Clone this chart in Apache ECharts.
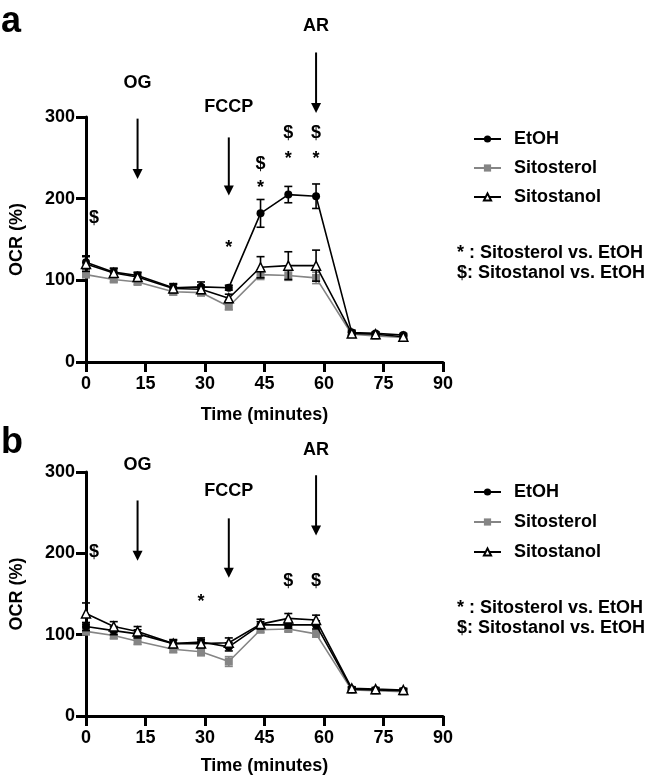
<!DOCTYPE html>
<html><head><meta charset="utf-8">
<script src="https://cdn.jsdelivr.net/npm/echarts@6/dist/echarts.min.js"></script>
<style>html,body{margin:0;padding:0;background:#fff}#c{width:646px;height:777px}</style>
</head><body><div id="c"></div><script>
// ---- data ----
const times = [0, 7, 13, 22, 29, 36, 44, 51, 58, 67, 73, 80];
const seriesNames = ['EtOH', 'Sitosterol', 'Sitostanol'];
const xTicks = [0, 15, 30, 45, 60, 75, 90];
const yTicks = [0, 100, 200, 300];

// panel a
const etohA = [122, 110, 106, 91, 92, 91, 182, 205, 203, 36, 35, 33];
const etohAErr = [8, 5, 4, 5, 6, 3, 17, 10, 15, 3, 2, 2];
const sterolA = [107, 101, 98, 86, 85, 68, 107, 106, 103, 34, 32, 30];
const sterolAErr = [3, 3, 3, 4, 4, 4, 6, 6, 7, 2, 2, 2];
const stanolA = [120, 109, 104, 90, 89, 78, 116, 118, 118, 35, 34, 31];
const stanolAErr = [9, 5, 5, 5, 5, 5, 13, 17, 19, 2, 2, 2];

// panel b
const etohB = [110, 105, 101, 89, 91, 85, 112, 112, 112, 33, 32, 31];
const etohBErr = [5, 5, 5, 4, 5, 5, 4, 4, 5, 2, 2, 2];
const sterolB = [104, 99, 92, 82, 79, 67, 106, 107, 101, 32, 31, 30];
const sterolBErr = [4, 4, 4, 4, 5, 6, 3, 3, 4, 2, 2, 2];
const stanolB = [126, 110, 104, 89, 89, 90, 113, 120, 118, 34, 33, 32];
const stanolBErr = [13, 6, 6, 5, 5, 6, 6, 6, 6, 2, 2, 2];

// significance marks [time, y]
const starA = [[36, 139], [44, 213], [51, 248], [58, 248]];
const dollarA = [[2, 176], [44, 243], [51, 280], [58, 280]];
const starB = [[29, 140]];
const dollarB = [[2, 201], [51, 166], [58, 166]];

// injections: label, time, arrow top y, arrow tip y, label y (data units)
const injectionsA = [
  ['OG', 13, 298, 224, 341],
  ['FCCP', 36, 275, 204, 312],
  ['AR', 58, 379, 305, 412]
];
const injectionsB = [
  ['OG', 13, 265, 191, 308],
  ['FCCP', 36, 243, 170, 277],
  ['AR', 58, 296, 222, 327]
];
const statNotes = ['* : Sitosterol vs. EtOH', '$: Sitostanol vs. EtOH'];

// ---- chart ----
const FONT = '"Liberation Sans", Arial, Helvetica, sans-serif';
const GREY = '#858585';
const chart = echarts.init(document.getElementById('c'), null, {renderer: 'canvas'});

function xAxis(gi, gap) {
  return {
    type: 'value', gridIndex: gi, min: 0, max: 90, interval: 15,
    name: 'Time (minutes)', nameLocation: 'middle', nameGap: gap,
    nameTextStyle: {color: '#000', fontSize: 18, fontWeight: 'bold', fontFamily: FONT},
    axisLine: {lineStyle: {color: '#000', width: 3}},
    axisTick: {length: 10, lineStyle: {color: '#000', width: 3}},
    axisLabel: {color: '#000', fontSize: 18, fontWeight: 'bold', fontFamily: FONT, margin: 13,
      formatter: v => xTicks.indexOf(v) >= 0 ? String(v) : ''},
    splitLine: {show: false}
  };
}
function yAxis(gi) {
  return {
    type: 'value', gridIndex: gi, min: 0, max: 300, interval: 100,
    name: 'OCR (%)', nameLocation: 'middle', nameGap: 60, nameRotate: 90,
    nameTextStyle: {color: '#000', fontSize: 18, fontWeight: 'bold', fontFamily: FONT},
    axisLine: {lineStyle: {color: '#000', width: 3}},
    axisTick: {length: 10, lineStyle: {color: '#000', width: 3}},
    axisLabel: {color: '#000', fontSize: 18, fontWeight: 'bold', fontFamily: FONT, margin: 11,
      formatter: v => yTicks.indexOf(v) >= 0 ? String(v) : ''},
    splitLine: {show: false}
  };
}
function pts(v) { return times.map((t, i) => [t, v[i]]); }
function errPts(v, e) { return times.map((t, i) => [t, v[i] - e[i], v[i] + e[i]]); }
function errRender(color) {
  return function (params, api) {
    const x = api.value(0), lo = api.value(1), hi = api.value(2);
    const a = api.coord([x, lo]), b = api.coord([x, hi]);
    const w = 4, st = {stroke: color, lineWidth: 1.6, fill: null};
    return {type: 'group', children: [
      {type: 'line', shape: {x1: a[0], y1: a[1], x2: b[0], y2: b[1]}, style: st},
      {type: 'line', shape: {x1: b[0] - w, y1: b[1], x2: b[0] + w, y2: b[1]}, style: st},
      {type: 'line', shape: {x1: a[0] - w, y1: a[1], x2: a[0] + w, y2: a[1]}, style: st}
    ]};
  };
}
function panelSeries(gi, etoh, etohE, sterol, sterolE, stanol, stanolE, stars, dollars) {
  const ax = {xAxisIndex: gi, yAxisIndex: gi};
  const markLabel = (txt) => ({show: true, position: 'inside', formatter: txt, color: '#000',
    opacity: 1, textBorderWidth: 0, textBorderColor: 'transparent',
    fontSize: 18, fontWeight: 'bold', fontFamily: FONT});
  return [
    Object.assign({type: 'custom', name: 'errSterol' + gi, renderItem: errRender(GREY), data: errPts(sterol, sterolE), encode: {x: 0, y: [1, 2]}, z: 1, silent: true}, ax),
    Object.assign({type: 'line', name: 'Sitosterol', data: pts(sterol), symbol: 'rect', symbolSize: 8,
      itemStyle: {color: GREY}, lineStyle: {color: GREY, width: 1.6}, z: 2}, ax),
    Object.assign({type: 'custom', name: 'errEtoh' + gi, renderItem: errRender('#000'), data: errPts(etoh, etohE), encode: {x: 0, y: [1, 2]}, z: 3, silent: true}, ax),
    Object.assign({type: 'line', name: 'EtOH', data: pts(etoh), symbol: 'circle', symbolSize: 8,
      itemStyle: {color: '#000'}, lineStyle: {color: '#000', width: 1.6}, z: 4}, ax),
    Object.assign({type: 'custom', name: 'errStanol' + gi, renderItem: errRender('#000'), data: errPts(stanol, stanolE), encode: {x: 0, y: [1, 2]}, z: 5, silent: true}, ax),
    Object.assign({type: 'line', name: 'Sitostanol', data: pts(stanol), symbol: 'triangle', symbolSize: 9,
      itemStyle: {color: '#fff', borderColor: '#000', borderWidth: 1.5}, lineStyle: {color: '#000', width: 1.6}, z: 6}, ax),
    Object.assign({type: 'scatter', name: 'starMarks' + gi, data: stars, symbolSize: 2, itemStyle: {color: 'rgba(255,255,255,0)'}, label: markLabel('*'), z: 7, silent: true}, ax),
    Object.assign({type: 'scatter', name: 'dollarMarks' + gi, data: dollars, symbolSize: 2, itemStyle: {color: 'rgba(255,255,255,0)'}, label: markLabel('$'), z: 7, silent: true}, ax)
  ];
}
function legend(top, gap) {
  return {
    data: seriesNames, orient: 'vertical', left: 468, top: top, itemGap: gap,
    itemWidth: 27, itemHeight: 9, selectedMode: false,
    textStyle: {color: '#000', fontSize: 18, fontWeight: 'bold', fontFamily: FONT, padding: [0, 0, 0, 8]}
  };
}

chart.setOption({
  animation: false,
  backgroundColor: '#fff',
  grid: [
    {left: 76, top: 117, width: 367, height: 245},
    {left: 76, top: 472, width: 367, height: 244}
  ],
  xAxis: [xAxis(0, 44), xAxis(1, 41)],
  yAxis: [yAxis(0), yAxis(1)],
  legend: [legend(125, 11), legend(478, 12)],
  series: panelSeries(0, etohA, etohAErr, sterolA, sterolAErr, stanolA, stanolAErr, starA, dollarA)
    .concat(panelSeries(1, etohB, etohBErr, sterolB, sterolBErr, stanolB, stanolBErr, starB, dollarB))
});

function arrows(gi, list) {
  const out = [];
  list.forEach(([label, t, yTop, yTip, yLab]) => {
    const p1 = chart.convertToPixel({gridIndex: gi}, [t, yTop]);
    const p2 = chart.convertToPixel({gridIndex: gi}, [t, yTip]);
    const pl = chart.convertToPixel({gridIndex: gi}, [t, yLab]);
    out.push({type: 'line', shape: {x1: p1[0], y1: p1[1], x2: p2[0], y2: p2[1] - 8}, style: {stroke: '#000', lineWidth: 2}});
    out.push({type: 'polygon', shape: {points: [[p2[0] - 5, p2[1] - 10], [p2[0] + 5, p2[1] - 10], [p2[0], p2[1]]]}, style: {fill: '#000'}});
    out.push({type: 'text', x: pl[0], y: pl[1], style: {text: label, fill: '#000', font: 'bold 18px ' + FONT, align: 'center', verticalAlign: 'middle'}});
  });
  return out;
}
function notes(top) {
  return statNotes.map((s, i) => ({type: 'text', x: 457, y: top + i * 20,
    style: {text: s, fill: '#000', font: 'bold 18px ' + FONT, align: 'left', verticalAlign: 'middle'}}));
}
const g = [
  {type: 'text', x: 11, y: 22, style: {text: 'a', fill: '#000', font: 'bold 36px ' + FONT, align: 'center', verticalAlign: 'middle'}},
  {type: 'text', x: 12, y: 443, style: {text: 'b', fill: '#000', font: 'bold 36px ' + FONT, align: 'center', verticalAlign: 'middle'}}
].concat(arrows(0, injectionsA), arrows(1, injectionsB), notes(253), notes(608));
chart.setOption({graphic: g});
</script></body></html>
